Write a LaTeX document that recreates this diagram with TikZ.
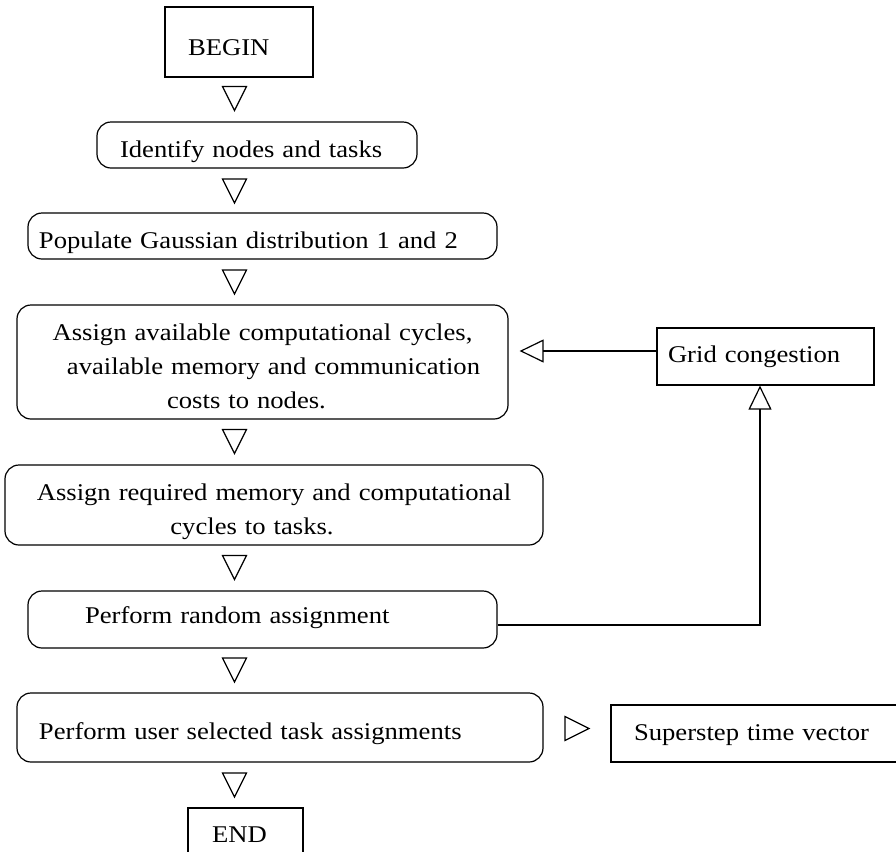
\documentclass[tikz,border=0pt]{standalone}
\usepackage{fontspec}
\setmainfont{Liberation Serif}[FakeStretch=1.11]
\usepackage{tikz}
\usetikzlibrary{arrows.meta,positioning,calc}

\begin{document}
\begin{tikzpicture}[x=1pt,y=-1pt,
        every node/.style={font=\fontsize{12pt}{17pt}\selectfont, inner ysep=0pt, line width=0.6pt},
        box/.style={draw, rectangle, align=left},
        rbox/.style={draw, rectangle, rounded corners=7pt},
        flow/.style={line width=0.6pt, -{Triangle[open,length=12pt,width=11.5pt]}},
        tri/.style={line width=0.6pt, line join=miter}]
                    \useasboundingbox (0,0) rectangle (448,426);
                    \node[box, text width=51pt, inner xsep=11.5pt, text height=24pt, text depth=11pt] (begin) at (119.5,21) {BEGIN};
                    \node[rbox, align=left, text width=137pt, inner xsep=11.5pt, text height=17.5pt, text depth=5.5pt] (ident) at (128.5,72.5) {Identify nodes and tasks};
                    \node[rbox, align=left, text width=223.5pt, inner xsep=5.5pt, text height=17.5pt, text depth=5.5pt] (popul) at (131.25,118) {Populate Gaussian distribution 1 and 2};
                    \node[rbox, align=center, text width=225.5pt, inner xsep=10pt, text height=17.5pt, text depth=39.5pt] (avail) at (131.25,181) {Assign available computational cycles,\\ \hspace*{11pt}available memory and communication\\ \hspace*{-16pt}costs to nodes.};
                    \node[box, text width=97.5pt, inner xsep=5.5pt, text height=17pt, text depth=11.5pt] (grid) at (382.75,178.25) {Grid congestion};
                    \node[rbox, align=center, text width=254pt, inner xsep=7.5pt, text height=17.5pt, text depth=22.5pt] (requ) at (137,252.5) {Assign required memory and computational\\ \hspace*{-22pt}cycles to tasks.};
                    \node[rbox, align=left, text width=177.5pt, inner xsep=28.5pt, text height=16pt, text depth=12.5pt] (rand) at (131.25,309.75) {Perform random assignment};
                    \node[rbox, align=left, text width=241pt, inner xsep=11pt, text height=23pt, text depth=11.5pt] (user) at (140,363.75) {Perform user selected task assignments};
                    \node[box, text width=136.5pt, inner xsep=11.5pt, text height=17.5pt, text depth=11pt] (super) at (385.25,366.75) {Superstep time vector};
                    \node[box, text width=33.5pt, inner xsep=12pt, text height=17pt, text depth=14pt] (end) at (122.75,419.5) {END};
                    \foreach \ty in {49.25,95.5,141,220.75,283.75,335,392.5}
                        \draw[tri] (111.25,\ty) ++(0,-6) -- ++(12,0) -- ++(-6,12) -- cycle;
                    \draw[tri] (282.5,358.25) -- ++(0,12) -- ++(12,-6) -- cycle;
                    \draw[flow, shorten >=5.5pt] ([yshift=2.75pt]grid.west) -- ([yshift=2.75pt]grid.west -| avail.east);
                    \draw[flow] ([yshift=-2.75pt]rand.east) -| ([xshift=-2.75pt]grid.south);
            \end{tikzpicture}
\end{document}
